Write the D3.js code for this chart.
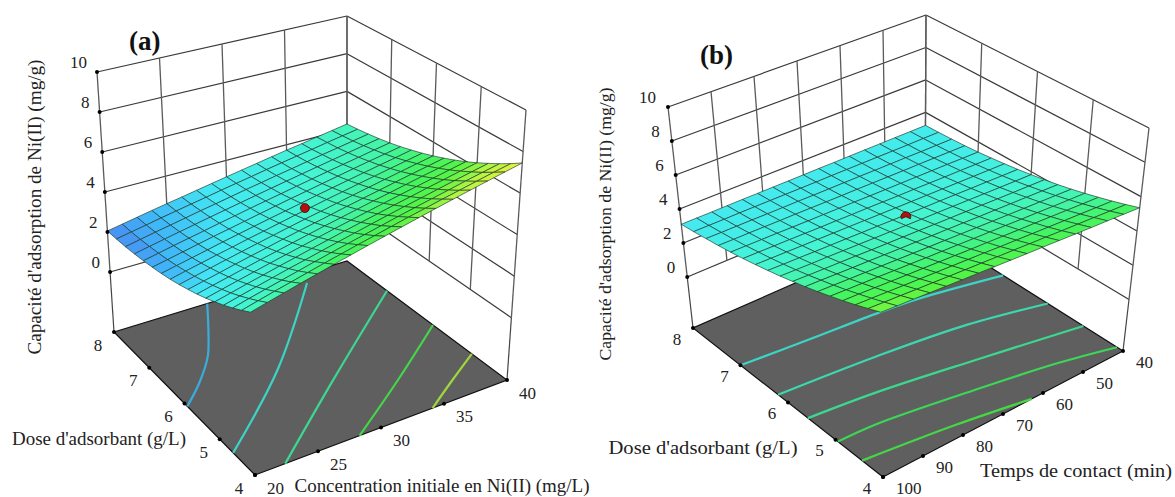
<!DOCTYPE html>
<html>
<head>
<meta charset="utf-8">
<script src="https://cdn.jsdelivr.net/npm/d3@7"></script>
<style>
    html, body { margin: 0; padding: 0; background: #fff; }
    text { font-family: "Liberation Serif", serif; fill: #222; }
</style>
</head>
<body>
<div id="chart"></div>
<script>
const zTicks = [0, 2, 4, 6, 8, 10];
const doseTicks = [4, 5, 6, 7, 8];
const concTicks = [20, 25, 30, 35, 40];
const timeTicks = [100, 90, 80, 70, 60, 50, 40];

const doseGrid = [4, 4.25, 4.5, 4.75, 5, 5.25, 5.5, 5.75, 6, 6.25, 6.5, 6.75, 7, 7.25, 7.5, 7.75, 8];
const concGrid = [20, 21.25, 22.5, 23.75, 25, 26.25, 27.5, 28.75, 30, 31.25, 32.5, 33.75, 35, 36.25, 37.5, 38.75, 40];
const timeGrid = [100, 96.25, 92.5, 88.75, 85, 81.25, 77.5, 73.75, 70, 66.25, 62.5, 58.75, 55, 51.25, 47.5, 43.75, 40];

// capacity, one row per dose, one column per concentration
const surfaceA = [
    [4.25, 4.45, 4.65, 4.85, 5.05, 5.25, 5.45, 5.65, 5.85, 6.05, 6.25, 6.45, 6.65, 6.85, 7.05, 7.25, 7.45],
    [3.98, 4.18, 4.38, 4.57, 4.77, 4.97, 5.16, 5.36, 5.55, 5.75, 5.95, 6.14, 6.34, 6.53, 6.73, 6.93, 7.12],
    [3.73, 3.93, 4.12, 4.31, 4.50, 4.70, 4.89, 5.08, 5.27, 5.46, 5.66, 5.85, 6.04, 6.23, 6.43, 6.62, 6.81],
    [3.50, 3.69, 3.88, 4.07, 4.26, 4.44, 4.63, 4.82, 5.01, 5.20, 5.39, 5.58, 5.76, 5.95, 6.14, 6.33, 6.52],
    [3.29, 3.47, 3.66, 3.84, 4.03, 4.21, 4.40, 4.58, 4.77, 4.95, 5.13, 5.32, 5.50, 5.69, 5.87, 6.06, 6.24],
    [3.09, 3.27, 3.45, 3.63, 3.81, 3.99, 4.17, 4.36, 4.54, 4.72, 4.90, 5.08, 5.26, 5.44, 5.62, 5.80, 5.98],
    [2.91, 3.09, 3.26, 3.44, 3.62, 3.79, 3.97, 4.15, 4.33, 4.50, 4.68, 4.86, 5.03, 5.21, 5.39, 5.56, 5.74],
    [2.75, 2.92, 3.09, 3.27, 3.44, 3.61, 3.79, 3.96, 4.13, 4.30, 4.48, 4.65, 4.82, 5.00, 5.17, 5.34, 5.52],
    [2.60, 2.77, 2.94, 3.11, 3.28, 3.45, 3.62, 3.79, 3.96, 4.12, 4.29, 4.46, 4.63, 4.80, 4.97, 5.14, 5.31],
    [2.47, 2.64, 2.80, 2.97, 3.13, 3.30, 3.46, 3.63, 3.80, 3.96, 4.13, 4.29, 4.46, 4.62, 4.79, 4.95, 5.12],
    [2.36, 2.52, 2.68, 2.84, 3.01, 3.17, 3.33, 3.49, 3.65, 3.81, 3.98, 4.14, 4.30, 4.46, 4.62, 4.78, 4.95],
    [2.27, 2.42, 2.58, 2.74, 2.90, 3.05, 3.21, 3.37, 3.53, 3.69, 3.84, 4.00, 4.16, 4.32, 4.48, 4.63, 4.79],
    [2.19, 2.34, 2.50, 2.65, 2.80, 2.96, 3.11, 3.27, 3.42, 3.57, 3.73, 3.88, 4.04, 4.19, 4.34, 4.50, 4.65],
    [2.13, 2.28, 2.43, 2.58, 2.73, 2.88, 3.03, 3.18, 3.33, 3.48, 3.63, 3.78, 3.93, 4.08, 4.23, 4.38, 4.53],
    [2.08, 2.23, 2.38, 2.52, 2.67, 2.82, 2.96, 3.11, 3.26, 3.40, 3.55, 3.69, 3.84, 3.99, 4.13, 4.28, 4.43],
    [2.06, 2.20, 2.34, 2.49, 2.63, 2.77, 2.91, 3.06, 3.20, 3.34, 3.49, 3.63, 3.77, 3.91, 4.06, 4.20, 4.34],
    [2.05, 2.19, 2.33, 2.47, 2.61, 2.74, 2.88, 3.02, 3.16, 3.30, 3.44, 3.58, 3.72, 3.85, 3.99, 4.13, 4.27]
];

// same for panel b, columns go from 100 min down to 40 min
const surfaceB = [
    [6.27, 6.21, 6.16, 6.10, 6.04, 5.98, 5.93, 5.87, 5.81, 5.75, 5.70, 5.64, 5.58, 5.52, 5.47, 5.41, 5.35],
    [5.98, 5.92, 5.87, 5.81, 5.76, 5.70, 5.65, 5.60, 5.54, 5.49, 5.43, 5.38, 5.32, 5.27, 5.22, 5.16, 5.11],
    [5.69, 5.64, 5.59, 5.54, 5.49, 5.44, 5.39, 5.34, 5.29, 5.23, 5.18, 5.13, 5.08, 5.03, 4.98, 4.93, 4.88],
    [5.42, 5.38, 5.33, 5.28, 5.23, 5.19, 5.14, 5.09, 5.04, 5.00, 4.95, 4.90, 4.86, 4.81, 4.76, 4.71, 4.67],
    [5.17, 5.12, 5.08, 5.04, 4.99, 4.95, 4.90, 4.86, 4.82, 4.77, 4.73, 4.69, 4.64, 4.60, 4.55, 4.51, 4.47],
    [4.92, 4.88, 4.84, 4.80, 4.76, 4.72, 4.68, 4.64, 4.60, 4.56, 4.52, 4.48, 4.44, 4.40, 4.36, 4.32, 4.28],
    [4.69, 4.66, 4.62, 4.58, 4.55, 4.51, 4.47, 4.44, 4.40, 4.37, 4.33, 4.29, 4.26, 4.22, 4.19, 4.15, 4.11],
    [4.48, 4.44, 4.41, 4.38, 4.35, 4.31, 4.28, 4.25, 4.22, 4.18, 4.15, 4.12, 4.09, 4.05, 4.02, 3.99, 3.96],
    [4.27, 4.24, 4.21, 4.19, 4.16, 4.13, 4.10, 4.07, 4.04, 4.01, 3.99, 3.96, 3.93, 3.90, 3.87, 3.84, 3.82],
    [4.08, 4.05, 4.03, 4.00, 3.98, 3.96, 3.93, 3.91, 3.88, 3.86, 3.83, 3.81, 3.79, 3.76, 3.74, 3.71, 3.69],
    [3.90, 3.88, 3.86, 3.84, 3.82, 3.80, 3.78, 3.76, 3.74, 3.72, 3.70, 3.68, 3.66, 3.64, 3.62, 3.60, 3.58],
    [3.73, 3.72, 3.70, 3.69, 3.67, 3.65, 3.64, 3.62, 3.61, 3.59, 3.57, 3.56, 3.54, 3.52, 3.51, 3.49, 3.48],
    [3.58, 3.57, 3.56, 3.55, 3.53, 3.52, 3.51, 3.50, 3.49, 3.47, 3.46, 3.45, 3.44, 3.43, 3.42, 3.40, 3.39],
    [3.44, 3.43, 3.43, 3.42, 3.41, 3.41, 3.40, 3.39, 3.38, 3.38, 3.37, 3.36, 3.35, 3.35, 3.34, 3.33, 3.32],
    [3.32, 3.31, 3.31, 3.31, 3.30, 3.30, 3.30, 3.29, 3.29, 3.29, 3.29, 3.28, 3.28, 3.28, 3.27, 3.27, 3.27],
    [3.20, 3.20, 3.20, 3.21, 3.21, 3.21, 3.21, 3.21, 3.21, 3.22, 3.22, 3.22, 3.22, 3.22, 3.22, 3.23, 3.23],
    [3.10, 3.11, 3.11, 3.12, 3.13, 3.13, 3.14, 3.14, 3.15, 3.16, 3.16, 3.17, 3.18, 3.18, 3.19, 3.19, 3.20]
];

// contour lines on the floor, [x value, dose]
const contourLevelsA = [2.6, 3.6, 4.6, 5.6, 6.6];
const contoursA = [
    [[20, 5.92], [22.2, 6.33], [24.4, 6.83], [26, 7.33], [28, 8]],
    [[20, 4.62], [27.8, 6.04], [35.8, 7.77]],
    [[22.4, 4], [30.4, 5.4], [40, 7]],
    [[28.3, 4], [34, 4.88], [40, 5.85]],
    [[34.1, 4], [37, 4.44], [40, 4.88]]
];
const contourLevelsB = [3.6, 4.1, 4.6, 5.2, 5.7];
const contoursB = [
    [[100, 7], [84, 6.9], [67, 6.8], [58, 6.72], [40, 6.42]],
    [[100, 6.21], [77, 6.06], [57.5, 5.86], [40, 5.52]],
    [[100, 5.58], [84.6, 5.45], [62.9, 5.16], [40, 4.8]],
    [[100, 4.95], [91, 4.92], [69, 4.65], [51.6, 4.38], [40, 4.12]],
    [[100, 4.44], [79, 4.23], [62.8, 4]]
];

const designPointA = [30, 6, 4.5];
const designPointB = [70, 6, 4.5];

const color = d3.scaleLinear()
    .domain([2, 2.4, 3, 3.9, 4.6, 5.2, 5.9, 6.6, 7.4])
    .range(["#4a88f0", "#40b4f8", "#44e8f4", "#44f4d4", "#44f4a4", "#44f464", "#54f444", "#b4f444", "#e8f03c"]);

const svg = d3.select("#chart").append("svg")
    .attr("width", 1175)
    .attr("height", 497)
    .style("display", "block");

const doseScale = d3.scaleLinear().domain([4, 8]).range([0, 1]);
const zScale = d3.scaleLinear().domain([-3, 10]).range([0, 1]);

function drawPanel(p) {
    const g = svg.append("g");
    const xScale = d3.scaleLinear().domain(p.xDomain).range([0, 1]);

    // box corners are placed by hand, everything else is blended between them
    const project = (x, dose, z) => {
        const u = xScale(x), v = doseScale(dose), w = zScale(z);
        const blend = k => {
            const c = p.box;
            const low = (1 - u) * (1 - v) * c.front[0][k] + u * (1 - v) * c.right[0][k]
                + (1 - u) * v * c.left[0][k] + u * v * c.back[0][k];
            const high = (1 - u) * (1 - v) * c.front[1][k] + u * (1 - v) * c.right[1][k]
                + (1 - u) * v * c.left[1][k] + u * v * c.back[1][k];
            return low + (high - low) * w;
        };
        return [blend(0), blend(1)];
    };

    const xMin = p.xDomain[0], xMax = p.xDomain[1];
    const path = d3.line();

    const seg = (a, b, stroke, width) => g.append("path")
        .attr("d", path([a, b]))
        .attr("stroke", stroke)
        .attr("stroke-width", width)
        .attr("fill", "none");

    // floor
    g.append("path")
        .attr("d", path([
            project(xMin, 4, -3), project(xMax, 4, -3), project(xMax, 8, -3), project(xMin, 8, -3)
        ]) + "Z")
        .attr("fill", "#5f5f5f")
        .attr("stroke", "#111")
        .attr("stroke-width", 1.2);

    // walls
    zTicks.forEach(z => {
        seg(project(xMin, 8, z), project(xMax, 8, z), "#3a3a3a", 1.2);
        seg(project(xMax, 8, z), project(xMax, 4, z), "#3a3a3a", 1.2);
    });
    p.xTicks.forEach(x => seg(project(x, 8, 0), project(x, 8, 10), "#5a5a5a", 1.3));
    doseTicks.forEach(d => seg(project(xMax, d, 0), project(xMax, d, 10), "#5a5a5a", 1.3));
    seg(project(xMin, 8, -3), project(xMin, 8, 0), "#444", 1.2);
    seg(project(xMax, 4, -3), project(xMax, 4, 0), "#444", 1.2);

    // contours
    const contourLine = d3.line().curve(d3.curveCatmullRom.alpha(0.5));
    p.contours.forEach((c, i) => {
        g.append("path")
            .attr("d", contourLine(c.map(d => project(d[0], d[1], -3))))
            .attr("fill", "none")
            .attr("stroke", d3.color(color(p.levels[i])).darker(0.35))
            .attr("stroke-width", 2.2);
    });

    // surface, back cells first
    for (let j = doseGrid.length - 2; j >= 0; j--) {
        for (let i = p.xGrid.length - 2; i >= 0; i--) {
            const corners = [[i, j], [i + 1, j], [i + 1, j + 1], [i, j + 1]];
            g.append("path")
                .attr("d", path(corners.map(c => project(p.xGrid[c[0]], doseGrid[c[1]], p.surface[c[1]][c[0]]))) + "Z")
                .attr("fill", color(d3.mean(corners, c => p.surface[c[1]][c[0]])))
                .attr("stroke", "#1c3428")
                .attr("stroke-width", 0.65);
        }
    }

    // design point, in panel b only its top part pokes through the surface
    const dot = project(...p.designPoint);
    if (p.dotUnder) {
        g.append("path")
            .attr("transform", `translate(${dot[0]},${dot[1] - 1})`)
            .attr("d", d3.arc()({innerRadius: 0, outerRadius: 5, startAngle: -2, endAngle: 2}))
            .attr("fill", "#b01010")
            .attr("stroke", "#300")
            .attr("stroke-width", 0.7);
    } else {
        g.append("circle")
            .attr("cx", dot[0])
            .attr("cy", dot[1])
            .attr("r", 4.5)
            .attr("fill", "#b01010")
            .attr("stroke", "#300")
            .attr("stroke-width", 0.7);
    }

    // ticks and labels
    const label = (pos, text, dx, dy, anchor) => g.append("text")
        .attr("x", pos[0] + dx)
        .attr("y", pos[1] + dy)
        .attr("text-anchor", anchor)
        .attr("dominant-baseline", "central")
        .style("font-size", "17px")
        .text(text);
    const tick = pos => g.append("circle")
        .attr("cx", pos[0]).attr("cy", pos[1]).attr("r", 2).attr("fill", "#000");

    zTicks.forEach(z => {
        const pos = project(xMin, 8, z);
        tick(pos);
        label(pos, z, p.zLabelDx, -10, "end");
    });
    doseTicks.forEach(d => {
        const pos = project(xMin, d, -3);
        tick(pos);
        label(pos, d, -16, p.labelDy, "middle");
    });
    p.xTicks.forEach(x => {
        const pos = project(x, 4, -3);
        tick(pos);
        label(pos, x, p.xLabelDx, p.labelDy, "start");
    });

    // titles
    p.titles.forEach(t => {
        g.append("text")
            .attr("transform", `translate(${t.x},${t.y}) rotate(${t.rotate || 0})`)
            .attr("text-anchor", "middle")
            .attr("textLength", t.length)
            .attr("lengthAdjust", "spacingAndGlyphs")
            .style("font-size", t.size + "px")
            .text(t.text);
    });

    g.append("text")
        .attr("x", p.tag.x)
        .attr("y", p.tag.y)
        .style("font-size", "27px")
        .style("font-weight", "bold")
        .style("fill", "#111")
        .text(p.tag.text);
}

drawPanel({
    xDomain: [20, 40],
    xTicks: concTicks,
    xGrid: concGrid,
    surface: surfaceA,
    contours: contoursA,
    levels: contourLevelsA,
    designPoint: designPointA,
    dotUnder: false,
    zLabelDx: -10,
    xLabelDx: 12,
    labelDy: 13,
    box: {
        front: [[255, 475], [247, 183]],
        right: [[507, 380], [526, 110]],
        left: [[114, 332], [97, 72]],
        back: [[347, 261], [347, 16]]
    },
    tag: {text: "(a)", x: 129, y: 50},
    titles: [
        {text: "Capacité d'adsorption de Ni(II) (mg/g)", x: 41, y: 207, rotate: -90, length: 295, size: 18},
        {text: "Dose d'adsorbant (g/L)", x: 99, y: 445, length: 174, size: 18},
        {text: "Concentration initiale en Ni(II) (mg/L)", x: 442, y: 492, length: 295, size: 18}
    ]
});

drawPanel({
    xDomain: [100, 40],
    xTicks: timeTicks,
    xGrid: timeGrid,
    surface: surfaceB,
    contours: contoursB,
    levels: contourLevelsB,
    designPoint: designPointB,
    dotUnder: true,
    zLabelDx: -12,
    xLabelDx: 13,
    labelDy: 11,
    box: {
        front: [[883, 477], [880, 246]],
        right: [[1123, 351], [1149, 128]],
        left: [[693, 328], [668, 107]],
        back: [[925, 226], [926, 15]]
    },
    tag: {text: "(b)", x: 700, y: 64},
    titles: [
        {text: "Capacité d'adsorption de Ni(II) (mg/g)", x: 611, y: 224, rotate: -90, length: 273, size: 17},
        {text: "Dose d'adsorbant (g/L)", x: 703, y: 454, length: 189, size: 18},
        {text: "Temps de contact (min)", x: 1076, y: 477, length: 192, size: 18}
    ]
});
</script>
</body>
</html>
